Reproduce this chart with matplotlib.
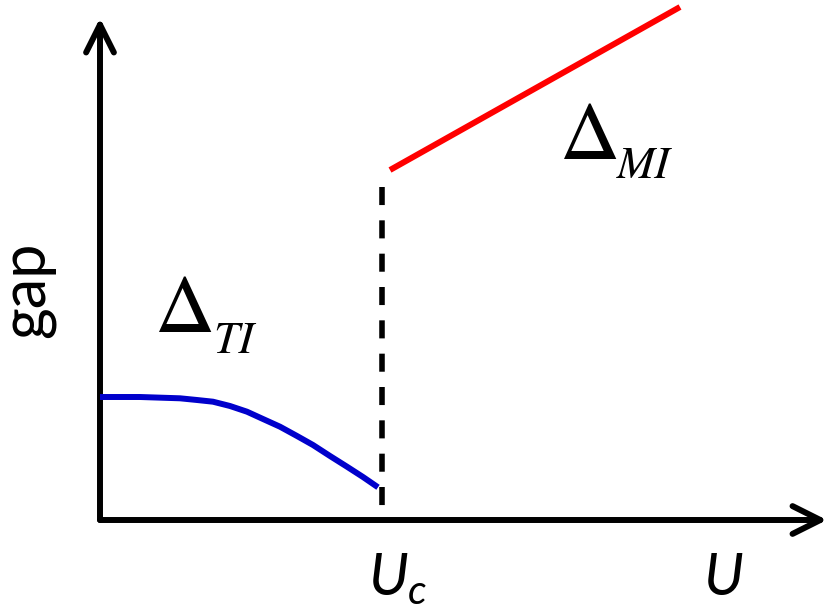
import matplotlib
matplotlib.use("Agg")
import matplotlib.pyplot as plt
from matplotlib.patches import FancyArrowPatch

plt.rcParams['mathtext.fontset'] = 'custom'
plt.rcParams['mathtext.it'] = 'Lato:italic'
plt.rcParams['mathtext.rm'] = 'Lato'
plt.rcParams['lines.scale_dashes'] = False

# topological-insulator gap (blue)
u_ti = [0.0, 0.4, 0.8, 0.97, 1.13, 1.3, 1.47, 1.63, 1.80, 1.97, 2.13, 2.3, 2.47, 2.63, 2.78]
gap_ti = [1.23, 1.23, 1.217, 1.20, 1.183, 1.14, 1.083, 1.01, 0.933, 0.84, 0.75, 0.64, 0.533, 0.43, 0.327]

# Mott-insulator gap (red)
u_mi = [2.9, 5.8]
gap_mi = [3.5, 5.13]

# critical U and top of dashed line
u_c = 2.82
gap_c_top = 3.33

fig = plt.figure(figsize=(8.3, 6.16), dpi=100)
ax = fig.add_axes((0, 0, 1, 1))
ax.set_xlim(-1.0, 7.3)
ax.set_ylim(-0.96, 5.2)
ax.axis('off')

# axes with arrows
arrow_kw = dict(arrowstyle='->,head_length=20,head_width=10', lw=4.3,
                color='black', mutation_scale=1, capstyle='round',
                joinstyle='round', shrinkA=0, shrinkB=0)
ax.add_patch(FancyArrowPatch((0, 0), (7.27, 0), **arrow_kw))
ax.add_patch(FancyArrowPatch((0, 0), (0, 5.02), **arrow_kw))

ax.plot(u_ti, gap_ti, color='#0000CC', lw=4.3, solid_capstyle='butt')
ax.plot(u_mi, gap_mi, color='#FF0000', lw=4.3, solid_capstyle='butt')
ax.plot([u_c, u_c], [gap_c_top, 0], color='black', lw=4.0,
        dashes=(13, 11), dash_capstyle='butt')

serif = 'STIXGeneral'
ax.text(0.55, 1.88, '\u0394', fontsize=60, family=serif, ha='left', va='baseline')
ax.text(1.13, 1.67, 'TI', fontsize=33, family=serif, style='italic',
        ha='left', va='baseline')
ax.text(4.6, 3.61, '\u0394', fontsize=60, family=serif, ha='left', va='baseline')
ax.text(5.17, 3.42, 'MI', fontsize=33, family=serif, style='italic',
        ha='left', va='baseline')

ax.text(2.68, -0.75, r'$U_c$', fontsize=42, ha='left', va='baseline')
ax.text(6.23, -0.75, r'$U$', fontsize=42, ha='center', va='baseline')

ax.text(-0.72, 2.3, 'gap', fontsize=44, family='Lato', rotation=90,
        ha='center', va='center')

fig.savefig('out.png', dpi=100)
